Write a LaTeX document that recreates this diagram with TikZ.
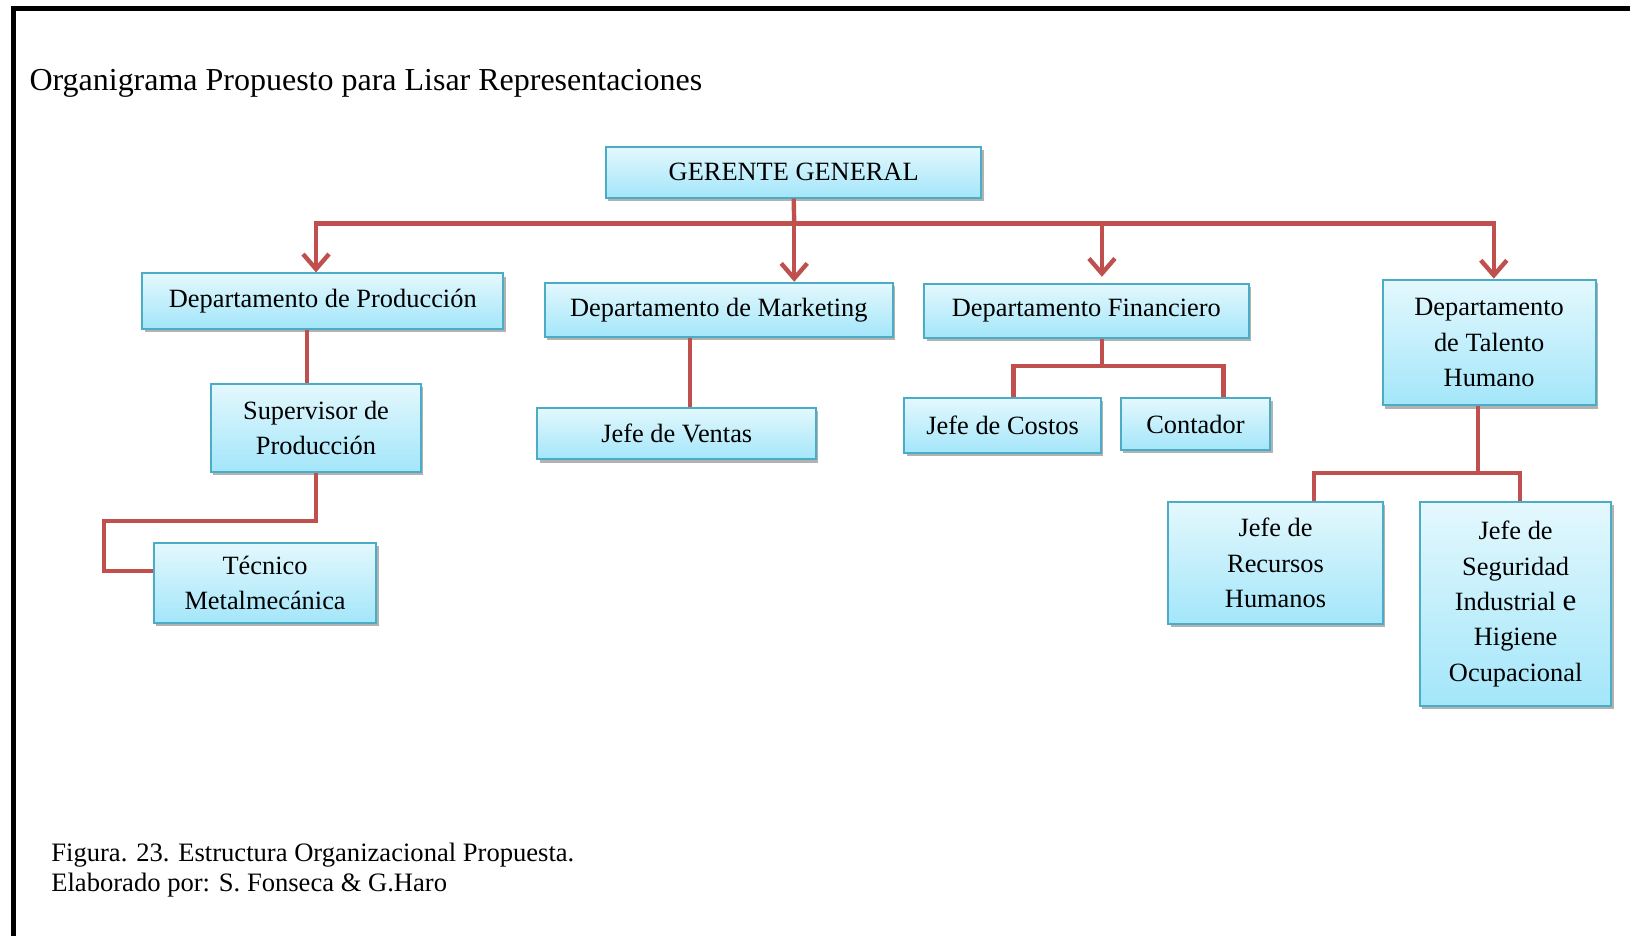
\documentclass[tikz,border=0pt]{standalone}
\usepackage{fontspec}
\setmainfont{Liberation Serif}
\usetikzlibrary{arrows.meta,shadows,calc}
\definecolor{boxline}{RGB}{75,172,198}
\definecolor{boxtop}{RGB}{228,248,253}
\definecolor{boxbot}{RGB}{163,230,250}
\definecolor{conred}{RGB}{192,80,77}
\newcommand\mybox[6]{\node[box, minimum width={(#4-#2)*0.52pt}, minimum height={(#5-#3)*0.52pt}] (#1) at ({(#2+#4)/2},{(#3+#5)/2}) {#6};}
\begin{document}
\begin{tikzpicture}[x=0.52pt,y=-0.52pt,
  box/.style={draw=boxline, line width=1pt, top color=boxtop, bottom color=boxbot,
    inner sep=0pt, align=center, font=\fontsize{13.2}{17.7}\selectfont,
    drop shadow={shadow xshift=1.2pt, shadow yshift=-1.6pt, opacity=0.3, fill=black}},
  conn/.style={draw=conred, line width=2.2pt, line join=miter},
  arr/.style={conn, -{Straight Barb[length=7.5pt,width=13pt]}},
  lbl/.style={anchor=base west, inner sep=0pt}]
\useasboundingbox (0,0) rectangle (1568,900);
\fill[white] (0,0) rectangle (1568,900);
% frame
\draw[line width=2.7pt, line join=miter] (12.7,900) -- (12.7,8.2) -- (1568,8.2);
% texts
\node[lbl, font=\fontsize{16}{19}\selectfont] (title) at (28,87) {Organigrama Propuesto para Lisar Representaciones};
\node[lbl, font=\fontsize{13.3}{16}\selectfont] (fig) at (49,829) {Figura. 23. Estructura Organizacional Propuesta.};
\node[lbl, font=\fontsize{13.3}{16}\selectfont] (elab) at (49,858) {Elaborado por: S. Fonseca \& G.Haro};
% boxes
\mybox{ger}{583}{141}{944}{190}{GERENTE GENERAL}
\mybox{prod}{137}{263}{484}{316}{Departamento de Producción}
\mybox{mkt}{524}{272}{859}{324}{Departamento de Marketing}
\mybox{fin}{889}{273}{1201}{325}{Departamento Financiero}
\mybox{tal}{1330}{269}{1535}{390}{Departamento\\de Talento\\Humano}
\mybox{sup}{203}{369}{405}{454}{Supervisor de\\Producción}
\mybox{tec}{148}{522}{362}{599}{Técnico\\Metalmecánica}
\mybox{ven}{517}{392}{785}{442}{Jefe de Ventas}
\mybox{cos}{870}{383}{1059}{436}{Jefe de Costos}
\mybox{con}{1078}{383}{1222}{433}{Contador}
\mybox{rrhh}{1124}{483}{1330}{600}{Jefe de\\Recursos\\Humanos}
\mybox{seg}{1366}{483}{1550}{679}{Jefe de\\Seguridad\\Industrial {\fontsize{15.5}{17.7}\selectfont e}\\Higiene\\Ocupacional}
% bus coordinates
\coordinate (busL) at (304,215);
\coordinate (busR) at (1437,215);
\coordinate (busM) at (764,215);
\coordinate (busF) at (1060,215);
\coordinate (st) at (100,501);
\coordinate (st2) at (100,549);
\coordinate (finL) at (975,352);
\coordinate (finR) at (1177,352);
\coordinate (talL) at (1264,455);
\coordinate (talR) at (1462,455);
% connectors
\draw[conn] (ger.south) -- (busM);
\draw[arr] (busM) -- (busL) -- (busL |- prod.north);
\draw[arr] (busM) -- (busR) -- (busR |- tal.north);
\draw[arr] (busM) -- (busM |- mkt.north);
\draw[arr, shorten >=3pt] (busF) -- (busF |- fin.north);
\draw[conn] ([xshift=-8pt]prod.south) -- ([xshift=-8pt]prod.south |- sup.north);
\draw[conn] (sup.south) -- (sup.south |- st) -- (st) -- (st2) -- (st2 -| tec.west);
\draw[conn] ([xshift=-14.3pt]mkt.south) -- ([xshift=-14.3pt]mkt.south |- ven.north);
\draw[conn] ([xshift=7.8pt]fin.south) -- ([xshift=7.8pt]fin.south |- finL);
\draw[conn] (finL |- cos.north) -- (finL) -- (finR) -- (finR |- con.north);
\draw[conn] ([xshift=-5.5pt]tal.south) -- ([xshift=-5.5pt]tal.south |- talL);
\draw[conn] (talL |- rrhh.north) -- (talL) -- (talR) -- (talR |- seg.north);
\end{tikzpicture}
\end{document}
